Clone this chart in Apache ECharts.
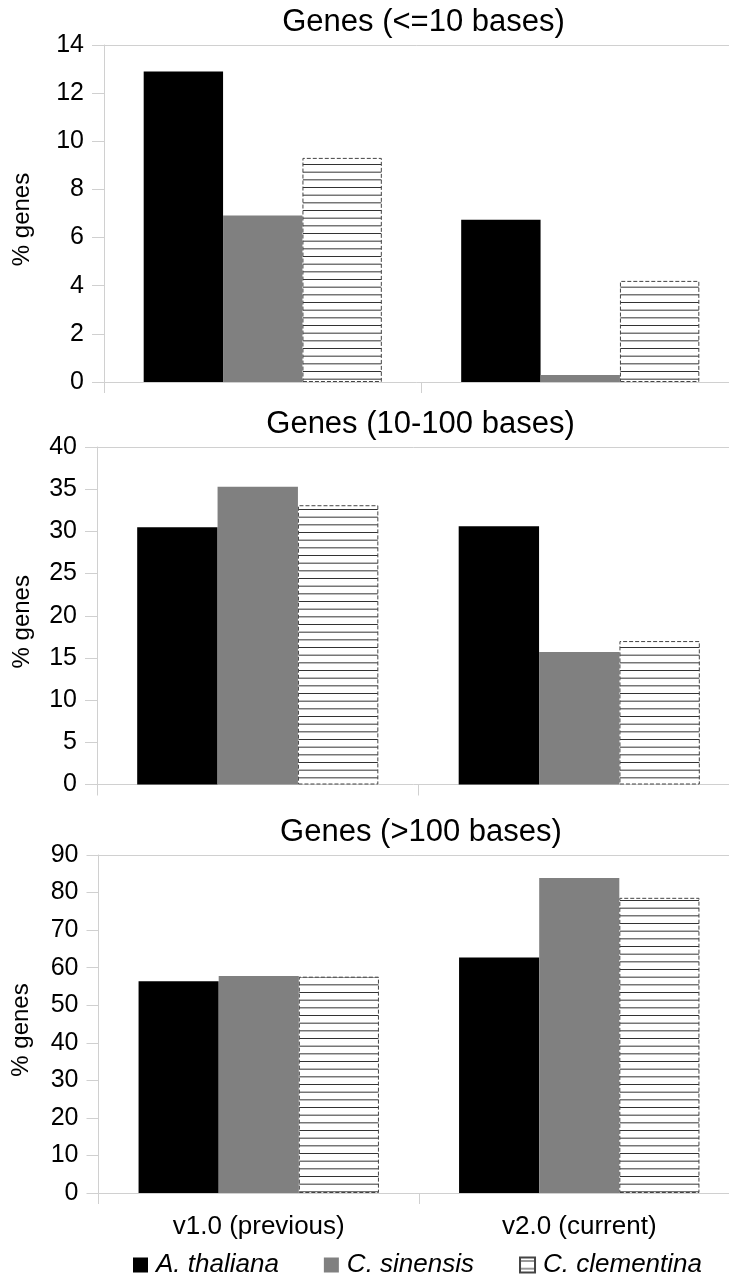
<!DOCTYPE html>
<html><head><meta charset="utf-8">
<script src="https://cdn.jsdelivr.net/npm/echarts@6/dist/echarts.min.js"></script>
<style>html,body{margin:0;padding:0;background:#fff}#c{width:729px;height:1281px}</style>
</head><body><div id="c"></div>
<script>
// ---- data ----
const categories = ['v1.0 (previous)', 'v2.0 (current)'];
const seriesNames = ['A. thaliana', 'C. sinensis', 'C. clementina'];
const panelTitles = ['Genes (<=10 bases)', 'Genes (10-100 bases)', 'Genes (>100 bases)'];
const short_thaliana = [12.9, 6.74];
const short_sinensis = [6.92, 0.29];
const short_clementina = [9.31, 4.2];
const mid_thaliana = [30.5, 30.6];
const mid_sinensis = [35.3, 15.7];
const mid_clementina = [33.1, 17.0];
const long_thaliana = [56.4, 62.7];
const long_sinensis = [57.8, 83.9];
const long_clementina = [57.6, 78.6];
const yMax = [14, 40, 90];
const yStep = [2, 5, 10];
const yAxisName = '% genes';

// ---- layout / style ----
const F = 'Liberation Sans';
const LC = '#d0d0d0';
const grids = [
  {left: 104, top: 45, width: 635, height: 337},
  {left: 97, top: 447, width: 643, height: 337.5},
  {left: 98.5, top: 855, width: 641, height: 338}
];
const nameGaps = [70, 63, 65];
const titleY = [22, 424, 832];

function hatch() {
  const c = document.createElement('canvas');
  c.width = 8; c.height = 23;
  const g = c.getContext('2d');
  g.fillStyle = '#fff'; g.fillRect(0, 0, 8, 23);
  g.fillStyle = '#333';
  [0, 7.667, 15.333].forEach(y => g.fillRect(0, y + 3, 8, 1));
  return c;
}
const hatchPattern = {image: hatch(), repeat: 'repeat'};

const panelData = [
  [short_thaliana, short_sinensis, short_clementina],
  [mid_thaliana, mid_sinensis, mid_clementina],
  [long_thaliana, long_sinensis, long_clementina]
];
const styles = [
  {color: '#000000'},
  {color: '#808080'},
  {color: hatchPattern, borderColor: '#444', borderWidth: 1, borderType: [4, 2]}
];

const option = {
  animation: false,
  backgroundColor: '#fff',
  title: panelTitles.map((t, i) => ({
    text: t,
    left: grids[i].left + grids[i].width / 2 + 2,
    top: titleY[i],
    padding: 0,
    textAlign: 'center',
    textVerticalAlign: 'middle',
    textStyle: {fontFamily: F, fontSize: 31, fontWeight: 'normal', color: '#000'}
  })),
  legend: {
    data: seriesNames,
    left: 133, top: 1252, padding: 0,
    icon: 'rect', itemWidth: 15, itemHeight: 15, itemGap: 45,
    textStyle: {fontFamily: F, fontSize: 26, fontStyle: 'italic', color: '#000', padding: [0, 0, 0, 3]}
  },
  grid: grids.map(g => Object.assign({outerBoundsMode: 'none', containLabel: false}, g)),
  xAxis: [
    ...grids.map((g, i) => ({
      type: 'category', gridIndex: i, data: categories, position: 'bottom',
      axisLine: {show: true, onZero: false, lineStyle: {color: LC, width: 1}},
      axisTick: {show: true, length: 11, lineStyle: {color: LC}},
      axisLabel: {show: i === 2, color: '#000', fontFamily: F, fontSize: 26, margin: 21},
      splitLine: {show: false}
    })),
    ...grids.map((g, i) => ({
      type: 'category', gridIndex: i, data: categories, position: 'top',
      axisLine: {show: true, onZero: false, lineStyle: {color: LC, width: 1}},
      axisTick: {show: false}, axisLabel: {show: false}, splitLine: {show: false}
    }))
  ],
  yAxis: grids.map((g, i) => ({
    type: 'value', gridIndex: i, min: 0, max: yMax[i], interval: yStep[i],
    name: yAxisName, nameLocation: 'middle', nameGap: nameGaps[i], nameRotate: 90,
    nameTextStyle: {fontFamily: F, fontSize: 24, color: '#000', padding: [0, 12, 0, 0]},
    axisLine: {show: true, lineStyle: {color: LC, width: 1}},
    axisTick: {show: true, length: 12, lineStyle: {color: LC}},
    axisLabel: {color: '#000', fontFamily: F, fontSize: 25, margin: 20},
    splitLine: {show: false}
  })),
  series: []
};

panelData.forEach((arrs, i) => {
  arrs.forEach((vals, k) => {
    option.series.push({
      type: 'bar', name: seriesNames[k], xAxisIndex: i, yAxisIndex: i,
      data: vals, barGap: '0%', barCategoryGap: '25%',
      itemStyle: styles[k]
    });
  });
});

const chart = echarts.init(document.getElementById('c'), null, {renderer: 'canvas'});
chart.setOption(option);
</script></body></html>
